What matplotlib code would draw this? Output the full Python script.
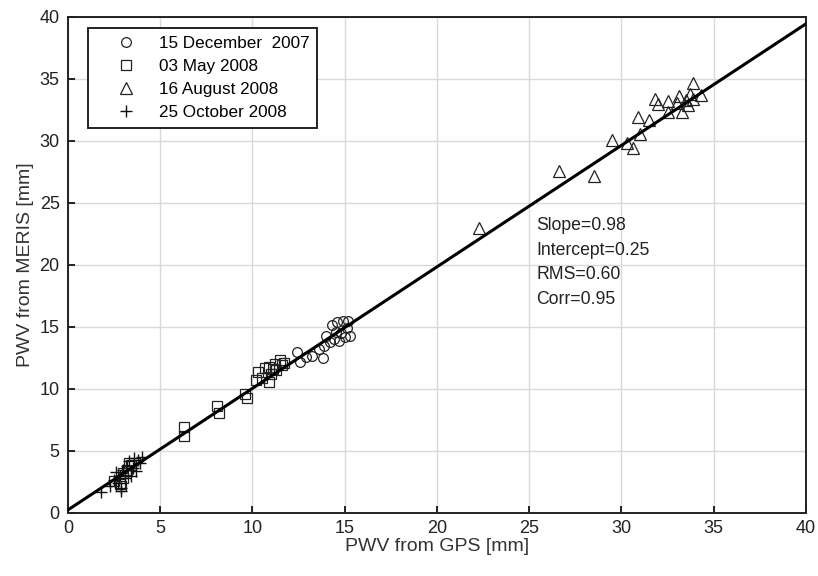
import matplotlib
matplotlib.use("Agg")
import matplotlib.pyplot as plt

# Data
dec_gps = [12.4, 12.6, 12.9, 13.2, 13.6, 13.8, 14.0, 14.2, 14.3, 14.5, 14.6, 14.8, 14.9, 15.0, 15.1, 15.2, 15.3, 14.7, 13.9, 14.4]
dec_meris = [13.0, 12.2, 12.6, 12.7, 13.2, 12.5, 14.3, 13.8, 15.2, 14.6, 15.4, 14.5, 15.5, 14.2, 14.9, 15.5, 14.3, 13.9, 13.5, 14.0]

may_gps = [2.5, 2.8, 2.9, 3.0, 3.2, 3.4, 3.3, 3.0, 6.3, 6.3, 8.1, 8.2, 9.6, 9.7, 10.2, 10.3, 10.7, 10.9, 10.9, 11.0, 11.2, 11.3, 11.5, 11.6, 11.7, 10.5, 11.1]
may_meris = [2.6, 2.3, 2.2, 3.2, 3.5, 3.9, 4.0, 2.8, 6.9, 6.2, 8.6, 8.1, 9.6, 9.3, 10.7, 11.4, 11.7, 10.6, 11.8, 11.2, 12.0, 11.5, 12.3, 11.9, 12.1, 10.9, 11.6]

aug_gps = [22.3, 26.6, 28.5, 29.5, 30.3, 30.6, 31.0, 30.9, 31.5, 31.8, 32.0, 32.5, 32.5, 33.1, 33.3, 33.5, 33.7, 33.9, 33.9, 34.3, 33.0, 33.6]
aug_meris = [23.0, 27.6, 27.2, 30.1, 29.8, 29.4, 30.6, 31.9, 31.7, 33.4, 33.0, 33.2, 32.3, 33.6, 32.3, 33.3, 33.8, 34.7, 33.4, 33.7, 33.1, 32.9]

oct_gps = [1.8, 2.3, 2.5, 2.8, 2.9, 3.0, 3.2, 3.3, 3.5, 3.8, 4.0, 3.1, 2.7, 3.6, 3.4, 2.9, 3.7, 3.9, 2.6]
oct_meris = [1.7, 2.2, 2.7, 3.0, 2.0, 3.5, 3.8, 4.2, 3.6, 4.3, 4.5, 2.8, 2.4, 4.4, 3.0, 1.8, 3.4, 4.0, 3.3]

labels = ["15 December  2007", "03 May 2008", "16 August 2008", "25 October 2008"]
slope = 0.98
intercept = 0.25
stats_text = ["Slope=0.98", "Intercept=0.25", "RMS=0.60", "Corr=0.95"]

plt.rcParams['font.family'] = ['Liberation Sans', 'DejaVu Sans']

fig = plt.figure(figsize=(8.18, 5.76), dpi=100)
ax = fig.add_axes([0.0831, 0.1094, 0.9022, 0.8611])

ms = 7
ax.plot(dec_gps, dec_meris, 'o', mfc='none', mec='#222222', ms=ms, mew=0.9, label=labels[0], zorder=3)
ax.plot(may_gps, may_meris, 's', mfc='none', mec='#222222', ms=ms - 0.5, mew=0.9, label=labels[1], zorder=3)
ax.plot(aug_gps, aug_meris, '^', mfc='none', mec='#222222', ms=ms + 1, mew=0.9, label=labels[2], zorder=3)
ax.plot(oct_gps, oct_meris, '+', color='#111111', ms=ms + 2, mew=1.0, label=labels[3], zorder=3)

xs = [0, 40]
ax.plot(xs, [slope * x + intercept for x in xs], '-', color='black', lw=2.2, zorder=4)

ax.set_xlim(0, 40)
ax.set_ylim(0, 40)
ax.set_xticks(range(0, 41, 5))
ax.set_yticks(range(0, 41, 5))
ax.grid(True, color='#d9d9d9', lw=1.0)
ax.set_axisbelow(True)
ax.tick_params(direction='in', length=5, width=1.2, labelsize=13, top=False, right=False,
               colors='black', labelcolor='#222222')
ax.tick_params(axis='x', pad=5)
ax.tick_params(axis='y', pad=6)
for s in ax.spines.values():
    s.set_linewidth(1.4)
    s.set_color('#222222')

ax.set_xlabel("PWV from GPS [mm]", fontsize=14, color='#333333', labelpad=1)
ax.set_ylabel("PWV from MERIS [mm]", fontsize=14, color='#333333', labelpad=4)

for i, t in enumerate(stats_text):
    ax.text(25.4, 23.2 - i * 2.0, t, fontsize=12.7, color='#222222', va='center', ha='left')

leg = ax.legend(loc='upper left', bbox_to_anchor=(0.027, 0.978), fontsize=12.3, frameon=True,
                fancybox=False, borderaxespad=0.0, handletextpad=0.1, labelspacing=0.48,
                handlelength=3.6, borderpad=0.45)
leg.get_frame().set_edgecolor('#222222')
leg.get_frame().set_linewidth(1.4)
leg.get_frame().set_alpha(1)

fig.savefig("out.png", dpi=100)
